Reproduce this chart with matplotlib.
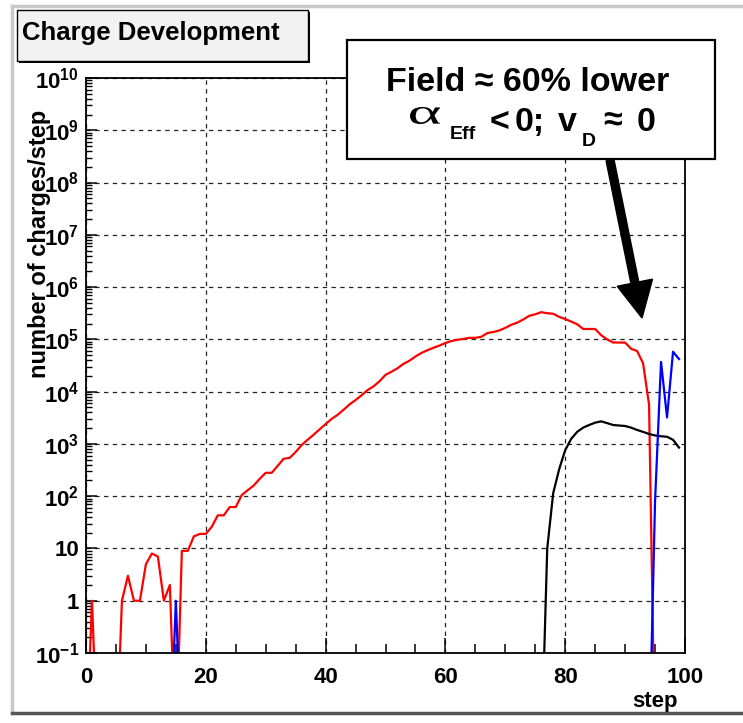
import matplotlib
matplotlib.use("Agg")
import matplotlib.pyplot as plt
import numpy as np
from matplotlib.patches import Rectangle, FancyArrow, PathPatch
from matplotlib.transforms import IdentityTransform, Affine2D
from matplotlib.textpath import TextPath
from matplotlib.font_manager import FontProperties
from matplotlib.ticker import LogLocator, MultipleLocator, FuncFormatter, NullFormatter

plt.rcParams['font.family'] = ['Liberation Sans', 'DejaVu Sans']
plt.rcParams['font.weight'] = 'bold'
plt.rcParams['mathtext.fontset'] = 'custom'
plt.rcParams['mathtext.rm'] = 'Liberation Sans:bold'
plt.rcParams['mathtext.bf'] = 'Liberation Sans:bold'
plt.rcParams['mathtext.it'] = 'Liberation Sans:bold'

# number of charges per step, steps 0..99 (0 = nothing)
steps = np.arange(100)
red = [0, 1, 0, 0, 0, 0, 1, 3, 1, 1,
       5, 8, 7, 1, 2, 0, 9, 9, 17, 19,
       19, 26, 43, 43, 62, 62, 105, 130, 160, 215,
       280, 280, 380, 520, 540, 700, 950, 1200, 1500, 1900,
       2400, 3000, 3600, 4500, 5700, 6900, 8500, 10700, 12600, 15800,
       21000, 24000, 28000, 34000, 39000, 47000, 55000, 62000, 69000, 76000,
       85000, 93000, 98000, 102000, 107000, 107000, 112000, 132000, 138000, 148000,
       166000, 190000, 209000, 240000, 282000, 302000, 331000, 316000, 309000, 269000,
       245000, 219000, 195000, 158000, 158000, 158000, 120000, 100000, 87000, 87000,
       87000, 66000, 60000, 35000, 5600, 0, 0, 0, 0, 0]
black = [0] * 77 + [10, 115, 330, 760, 1250, 1700, 2050, 2300, 2550, 2700,
                    2500, 2300, 2250, 2200, 2050, 1850, 1700, 1550, 1450, 1400,
                    1370, 1200, 850]
blue = [0] * 15 + [1] + [0] * 79 + [80, 37000, 3200, 58000, 42000]

W, H = 743, 723
fig = plt.figure(figsize=(W / 100, H / 100), dpi=100)
fig.patch.set_facecolor('white')

ax = fig.add_axes([86 / W, 1 - 653 / H, 599 / W, 575 / H])
ax.set_yscale('log')


def floor0(v):
    v = np.array(v, dtype=float)
    return np.where(v > 0, v, 1e-3)


ax.plot(steps, floor0(red), color='#ff0000', lw=1.6)
ax.plot(steps, floor0(black), color='black', lw=1.6)
ax.plot(steps, floor0(blue), color='#0000ff', lw=1.6)

ax.set_xlim(0, 100)
ax.set_ylim(0.1, 1e10)

ax.xaxis.set_major_locator(MultipleLocator(20))
ax.xaxis.set_minor_locator(MultipleLocator(5))
ax.yaxis.set_major_locator(LogLocator(base=10, numticks=20))
ax.yaxis.set_minor_locator(LogLocator(base=10, subs=np.arange(2, 10), numticks=20))
ax.yaxis.set_minor_formatter(NullFormatter())


def ylab(v, pos):
    e = int(round(np.log10(v)))
    if e == 0:
        return '1'
    if e == 1:
        return '10'
    return r'$10^{%d}$' % e


ax.yaxis.set_major_formatter(FuncFormatter(ylab))

ax.grid(True, which='major', color='#222222', lw=0.9, ls=(0, (3.5, 3.5)))
ax.tick_params(axis='x', which='major', direction='in', length=11, width=1.1,
               top=False, labelsize=16, pad=10)
ax.tick_params(axis='x', which='minor', direction='in', length=6.5, width=1.1, top=False)
ax.tick_params(axis='y', which='major', direction='in', length=8, width=1.1,
               right=False, labelsize=16, pad=5)
ax.tick_params(axis='y', which='minor', direction='in', length=4.5, width=1.0, right=False)
for lab in ax.get_xticklabels() + ax.get_yticklabels():
    lab.set_fontweight('bold')
for s in ax.spines.values():
    s.set_linewidth(1.3)

# axis titles
fig.text(40 / W, 1 - 110 / H, 'number of charges/step', rotation=90,
         ha='center', va='top', fontsize=17, fontweight='bold')
fig.text(678 / W, 1 - 701 / H, 'step', ha='right', va='center',
         fontsize=16, fontweight='bold')


def rect(x0, y0, x1, y1, **kw):
    r = Rectangle((x0 / W, 1 - y1 / H), (x1 - x0) / W, (y1 - y0) / H,
                  transform=fig.transFigure, **kw)
    fig.add_artist(r)


def ftext(x, y, s, size, **kw):
    fig.text(x / W, 1 - y / H, s, ha='left', va='baseline', fontsize=size,
             fontweight='bold', zorder=7, **kw)


# canvas border (light top/left, dark bottom)
fig.add_artist(plt.Line2D([12 / W, 12 / W], [1 - 6 / H, 1 - 713 / H], color='#c8c8c8', lw=2.5))
fig.add_artist(plt.Line2D([12 / W, 1.0], [1 - 6 / H, 1 - 6 / H], color='#c8c8c8', lw=2.5))
fig.add_artist(plt.Line2D([12 / W, 1.0], [1 - 713 / H, 1 - 713 / H], color='#555555', lw=2.5))

# title box
rect(19, 12, 310, 63, facecolor='black', edgecolor='black', lw=0, zorder=5)
rect(17, 10, 308, 61, facecolor='#f2f2f2', edgecolor='black', lw=1.0, zorder=6)
fig.text(22 / W, 1 - 33 / H, 'Charge Development', ha='left', va='center',
         fontsize=18.5, fontweight='bold', zorder=7)

# annotation box
rect(347, 40, 715, 159, facecolor='white', edgecolor='black', lw=1.6, zorder=5)
fig.text(528 / W, 1 - 91 / H, 'Field \u2248 60% lower', ha='center', va='baseline',
         fontsize=24.5, fontweight='bold', zorder=7)

# wide symbol-style alpha, fitted into its box (x 410..440, y 107..123)
tp = TextPath((0, 0), '\u03b1', size=40,
              prop=FontProperties(family='Liberation Serif', weight='normal'))
bb = tp.get_extents()
tr = (Affine2D().translate(-bb.x0, -bb.y0)
      .scale(30 / bb.width, 17 / bb.height)
      .translate(410, H - 124))
fig.add_artist(PathPatch(tr.transform_path(tp), facecolor='black', lw=0,
                         transform=IdentityTransform(), zorder=7))
ftext(450, 139, 'Eff', 14)
ftext(490, 131, '<', 24.5)
ftext(515, 131, '0;', 24.5)
ftext(558, 131, 'v', 24.5)
ftext(582, 146, 'D', 14)
ftext(603, 131, '\u2248', 24.5)
ftext(637, 131, '0', 24.5)

# arrow
arr = FancyArrow(610, H - 160, 32, -158, width=8, head_width=36, head_length=36,
                 length_includes_head=True, color='black', transform=IdentityTransform(),
                 zorder=8)
fig.add_artist(arr)

fig.savefig('out.png', dpi=100)
